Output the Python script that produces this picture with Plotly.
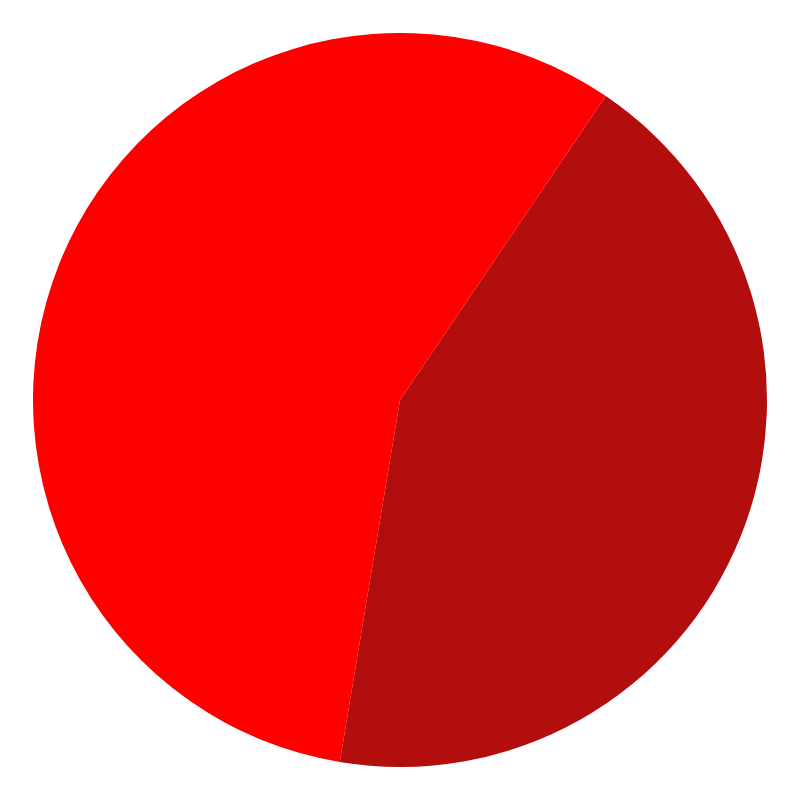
import plotly.graph_objects as go

labels = ['A', 'B']
values = [43.15, 56.85]
colors = ['#b20e0e', '#ff0000']

fig = go.Figure(go.Pie(
    labels=labels,
    values=values,
    sort=False,
    direction='clockwise',
    rotation=34.1,
    marker=dict(colors=colors, line=dict(width=0)),
    textinfo='none',
    hoverinfo='label+percent'
))

fig.update_layout(
    autosize=True,
    showlegend=False,
    margin=dict(l=25, r=25, t=25, b=25),
    paper_bgcolor='white'
)

fig.write_html("out.html")
